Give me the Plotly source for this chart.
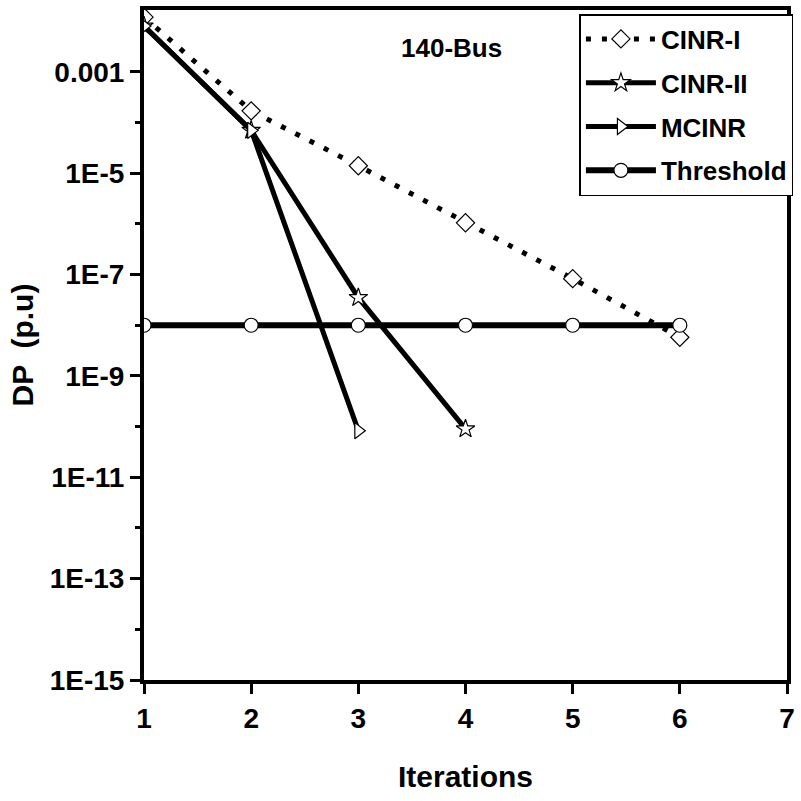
import plotly.graph_objects as go

iterations_1 = [1, 2, 3, 4, 5, 6]
cinr1 = [1.2e-2, 1.7e-4, 1.4e-5, 1.05e-6, 8.3e-8, 5.8e-9]
iterations_2 = [1, 2, 3, 4]
cinr2 = [8e-3, 7e-5, 3.5e-8, 9e-11]
iterations_3 = [1, 2, 3]
mcinr = [8e-3, 7e-5, 8.3e-11]
iterations_t = [1, 2, 3, 4, 5, 6]
threshold = [1e-8, 1e-8, 1e-8, 1e-8, 1e-8, 1e-8]

ytick_vals = [1e-3, 1e-5, 1e-7, 1e-9, 1e-11, 1e-13, 1e-15]
ytick_text = ["0.001", "1E-5", "1E-7", "1E-9", "1E-11", "1E-13", "1E-15"]
yminor_vals = [1e-4, 1e-6, 1e-8, 1e-10, 1e-12, 1e-14]
xtick_vals = [1, 2, 3, 4, 5, 6, 7]

SANS = "Liberation Sans, Arial, sans-serif"

fig = go.Figure()
mk = dict(size=14, color="white", line=dict(color="black", width=1.2))

fig.add_trace(go.Scatter(x=iterations_1, y=cinr1, name="<b>CINR-I</b>", mode="lines+markers",
                         legendgroup="a",
                         line=dict(color="black", width=5, dash="5px,11px"),
                         marker=dict(symbol="diamond", **mk)))
fig.add_trace(go.Scatter(x=iterations_2, y=cinr2, name="<b>CINR-II</b>", mode="lines+markers",
                         legendgroup="b",
                         line=dict(color="black", width=5),
                         marker=dict(symbol="star", **mk)))
fig.add_trace(go.Scatter(x=iterations_3, y=mcinr, name="<b>MCINR</b>", mode="lines+markers",
                         legendgroup="c",
                         line=dict(color="black", width=5),
                         marker=dict(symbol="triangle-right", **mk)))
fig.add_trace(go.Scatter(x=iterations_t, y=threshold, name="<b>Threshold</b>", mode="lines+markers",
                         legendgroup="d",
                         line=dict(color="black", width=6),
                         marker=dict(symbol="circle", **mk)))

fig.update_layout(
    width=801, height=801,
    margin=dict(l=144, r=7, t=6, b=121),
    paper_bgcolor="white", plot_bgcolor="white",
    showlegend=True,
    legend=dict(x=1.01, y=0.994, xanchor="right", yanchor="top",
                bgcolor="white", bordercolor="black", borderwidth=1.5,
                font=dict(family=SANS, size=26, color="black"),
                traceorder="grouped", tracegroupgap=7,
                itemwidth=70),
    annotations=[dict(text="<b>140-Bus</b>", x=0.478, y=0.944, xref="paper", yref="paper",
                      xanchor="center", yanchor="middle",
                      showarrow=False, font=dict(family=SANS, size=26, color="black"))],
)

fig.update_xaxes(range=[1, 7], tickvals=xtick_vals,
                 ticktext=[f"<b>{v}</b>" for v in xtick_vals],
                 showline=True, linecolor="black", linewidth=4, mirror=True,
                 ticks="outside", ticklen=10, tickwidth=3, tickcolor="black",
                 showgrid=False, zeroline=False,
                 tickfont=dict(family=SANS, size=28, color="black"),
                 title=dict(text="<b>Iterations</b>", standoff=34,
                            font=dict(family=SANS, size=30, color="black")))

fig.update_yaxes(type="log", range=[-15, -1.78], tickvals=ytick_vals,
                 ticktext=[f"<b>{t}</b>" for t in ytick_text],
                 showline=True, linecolor="black", linewidth=4, mirror=True,
                 ticks="outside", ticklen=10, tickwidth=3, tickcolor="black",
                 minor=dict(tickvals=yminor_vals, ticks="outside", ticklen=5, tickwidth=3, tickcolor="black"),
                 showgrid=False, zeroline=False,
                 tickfont=dict(family=SANS, size=28, color="black"),
                 title=dict(text="<b>DP  (p.u)</b>", standoff=8,
                            font=dict(family=SANS, size=30, color="black")))

fig.write_html("out.html")
